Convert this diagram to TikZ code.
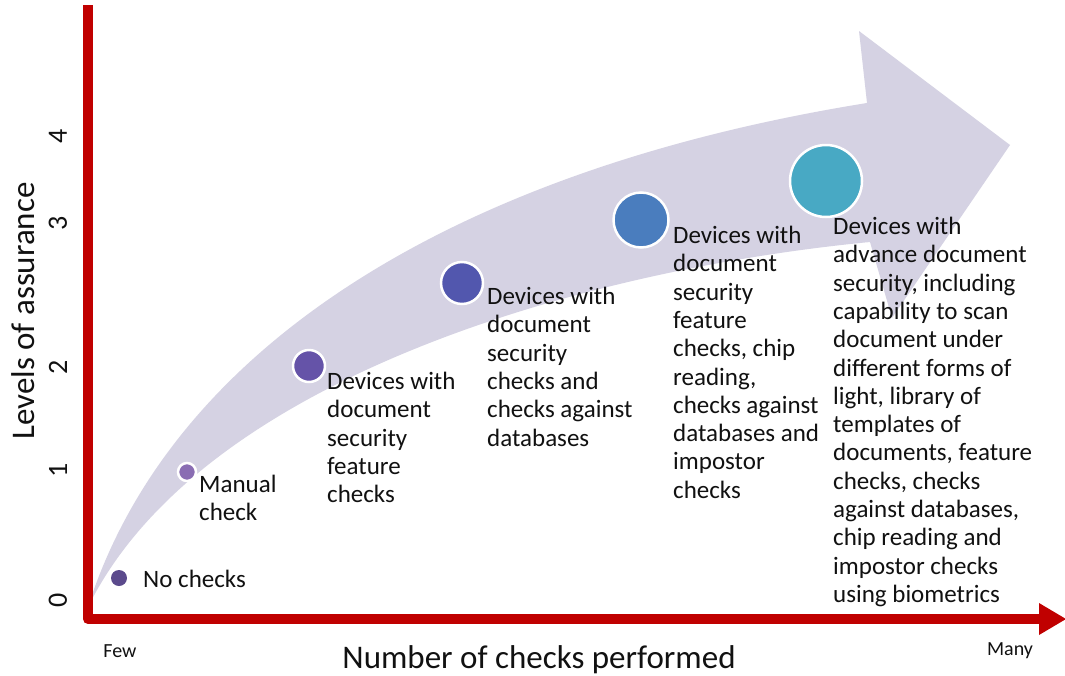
\documentclass[tikz,border=0pt]{standalone}
\usepackage{fontspec}
\setmainfont{Carlito}
\definecolor{axisred}{HTML}{C00000}
\definecolor{bandfill}{HTML}{D5D2E3}
\definecolor{cA}{HTML}{5B4A8C}
\definecolor{cB}{HTML}{8A6DB3}
\definecolor{cC}{HTML}{6553A8}
\definecolor{cD}{HTML}{5257AE}
\definecolor{cE}{HTML}{4A7DBE}
\definecolor{cF}{HTML}{48A9C4}
\definecolor{txt}{HTML}{111111}
\begin{document}
\begin{tikzpicture}[x=1pt,y=-1pt,
  dot/.style={circle, draw=white, line width=2.5pt, inner sep=0pt, minimum size=#1},
  lbl/.style={anchor=north west, align=left, inner sep=0pt, text=txt, font=\fontsize{25}{28.3}\selectfont},
  ticklbl/.style={rotate=90, inner sep=0pt, text=txt, font=\fontsize{28}{32}\selectfont},
  axlbl/.style={inner sep=0pt, text=txt, font=\fontsize{33}{40}\selectfont},
  endlbl/.style={inner sep=0pt, text=txt, font=\fontsize{20}{24}\selectfont}]
\useasboundingbox (0,0) rectangle (1065,675);
\fill[white] (0,0) rectangle (1065,675);
% curved band arrow
\fill[bandfill] (88,607) .. controls (170,350) and (450,170) .. (867,103) -- (859,31) -- (1010,145) -- (892,318) -- (870,242) .. controls (580,270) and (200,380) .. (88,607) -- cycle;
% circles
\node[dot=16pt, fill=cA, draw=none] (c1) at (119,578) {};
\node[dot=18pt, fill=cB] (c2) at (187,472) {};
\node[dot=32pt, fill=cC] (c3) at (309,366) {};
\node[dot=42pt, fill=cD] (c4) at (462,283) {};
\node[dot=55pt, fill=cE] (c5) at (641,220) {};
\node[dot=72pt, fill=cF] (c6) at (826,181) {};
% labels
\node[lbl] (t1) at (143,570) {No checks};
\node[lbl] (t2) at (199,475) {Manual\\check};
\node[lbl] (t3) at (327,372) {Devices with\\document\\security\\feature\\checks};
\node[lbl] (t4) at (487,287) {Devices with\\document\\security\\checks and\\checks against\\databases};
\node[lbl] (t5) at (673,226) {Devices with\\document\\security\\feature\\checks, chip\\reading,\\checks against\\databases and\\impostor\\checks};
\node[lbl] (t6) at (833,217) {Devices with\\advance document\\security, including\\capability to scan\\document under\\different forms of\\light, library of\\templates of\\documents, feature\\checks, checks\\against databases,\\chip reading and\\impostor checks\\using biometrics};
% axes
\draw[axisred, line width=10pt, line join=round] (88,5) -- (88,619) -- (1042,619);
\fill[axisred] (1039,603) -- (1066,619) -- (1039,635) -- cycle;
% axis texts
\node[ticklbl] (y0) at (58,600) {0};
\node[ticklbl] (y1) at (58,470) {1};
\node[ticklbl] (y2) at (58,367) {2};
\node[ticklbl] (y3) at (58,223) {3};
\node[ticklbl] (y4) at (58,136) {4};
\node[axlbl, rotate=90, anchor=base] (ylab) at (34,311) {Levels of assurance};
\node[axlbl, anchor=base] (xlab) at (539,668) {Number of checks performed};
\node[endlbl] (few) at (120,651) {Few};
\node[endlbl] (many) at (1010,651) {Many};
\end{tikzpicture}
\end{document}
